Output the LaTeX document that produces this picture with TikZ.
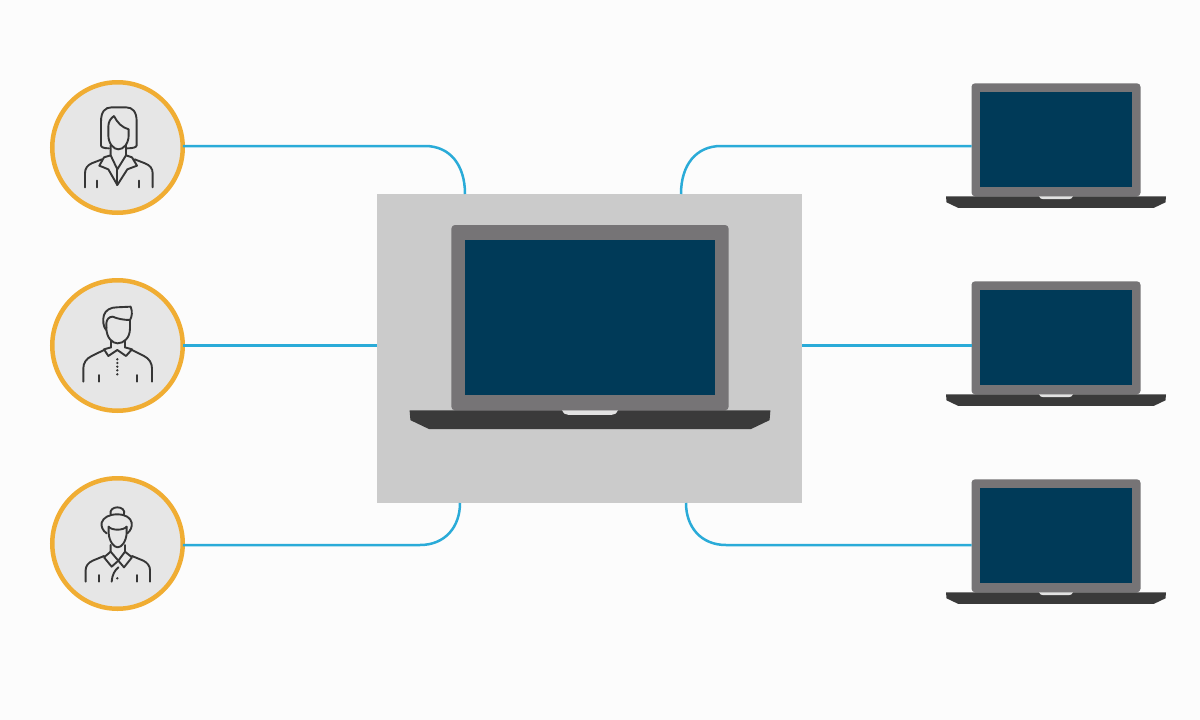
\documentclass[tikz,border=0pt]{standalone}
\definecolor{bgc}{HTML}{FCFCFC}
\definecolor{hubc}{HTML}{CBCBCB}
\definecolor{linkc}{HTML}{2AABD8}
\definecolor{ringc}{HTML}{F0AD33}
\definecolor{discc}{HTML}{E6E6E6}
\definecolor{bodyc}{HTML}{767476}
\definecolor{screenc}{HTML}{003A58}
\definecolor{basec}{HTML}{3A3A3A}
\definecolor{notchc}{HTML}{E2E2E2}
\definecolor{iconc}{HTML}{363636}
\tikzset{
  hubbox/.style={fill=hubc,draw=none,minimum width=425pt,minimum height=309pt,inner sep=0pt,outer sep=0pt},
  userdisc/.style={circle,fill=discc,draw=ringc,line width=4.5pt,minimum size=130.5pt,inner sep=0pt,outer sep=0pt},
  link/.style={draw=linkc,line width=2.5pt},
  lapbody/.style={fill=bodyc,draw=none,rounded corners=3.5pt,minimum width=169pt,minimum height=113pt,inner sep=0pt,outer sep=0pt},
  lapscreen/.style={fill=screenc,draw=none,minimum width=152.5pt,minimum height=94.5pt,inner sep=0pt,outer sep=0pt},
  icon/.style={draw=iconc,line width=1.9pt,line cap=round,line join=round},
  zoomed/.style={x=0.33333pt,y=-0.33333pt}
}
% name, centre x, top y, scale
\newcommand{\laptopicon}[4]{%
  \begin{scope}[shift={(#2,#3)},scale=#4,transform shape]
    \node[lapbody] (#1) at (0,56.5) {};
    \node[lapscreen] (#1s) at (-0.2,56.2) {};
    \fill[basec] (-110,113) -- (110,113) -- (109.5,119)
      -- (98,124.5) -- (-98,124.5) -- (-109.5,119) -- cycle;
    \fill[notchc] (-17,113) -- (17,113) .. controls (16,115) and (15,115.8) .. (13,115.8)
      -- (-13,115.8) .. controls (-15,115.8) and (-16,115) .. (-17,113) -- cycle;
  \end{scope}}
\begin{document}
\begin{tikzpicture}[x=1pt,y=-1pt]
\useasboundingbox (0,0) rectangle (1200,720);
\fill[bgc] (0,0) rectangle (1200,720);

\node[hubbox] (hub) at (589.5,348.5) {};
\coordinate (hnw) at (465,194);
\coordinate (hne) at (681,194);
\coordinate (hsw) at (460,503);
\coordinate (hse) at (686,503);
\coordinate (bendA) at (425,146);
\coordinate (bendB) at (721,146);
\coordinate (bendC) at (420,545);
\coordinate (bendD) at (726,545);

\node[userdisc] (u1) at (117.5,147.5) {};
\node[userdisc] (u2) at (117.5,345.5) {};
\node[userdisc] (u3) at (117.5,543.5) {};

\laptopicon{big}{590}{225}{1.64}
\laptopicon{l1}{1056}{83.3}{1}
\laptopicon{l2}{1056}{281.3}{1}
\laptopicon{l3}{1056}{479.3}{1}

% connectors
\draw[link] (u1.east |- bendA) -- (bendA) .. controls (450,146) and (465,165) .. (hnw);
\draw[link] (u2.east) -- (hub.west |- u2.east);
\draw[link] (u3.east |- bendC) -- (bendC) .. controls (445,545) and (460,527) .. (hsw);
\draw[link] (l1.west |- bendB) -- (bendB) .. controls (696,146) and (681,165) .. (hne);
\draw[link] (l2.west |- u2.east) -- (hub.east |- u2.east);
\draw[link] (l3.west |- bendD) -- (bendD) .. controls (701,545) and (686,527) .. (hse);

% woman, top
\begin{scope}[shift={(40,70)},zoomed]
  \draw[icon] (207,235) .. controls (192,235) and (183,232) .. (183,226) -- (183,155)
    .. controls (183,125) and (195,112) .. (215,112) -- (258,112)
    .. controls (278,112) and (290,125) .. (290,155) -- (290,226)
    .. controls (290,232) and (278,235) .. (262,235);
  \draw[icon] (222,138) .. controls (212,145) and (205,155) .. (205,170) -- (205,195)
    .. controls (205,222) and (222,238) .. (235,238)
    .. controls (250,238) and (266,222) .. (266,195) -- (266,178)
    .. controls (245,172) and (232,158) .. (222,138);
  \draw[icon] (212,226) -- (212,256) -- (232,298) -- (258,256) -- (258,226);
  \draw[icon] (212,256) -- (192,262) -- (178,287) -- (205,298) -- (232,345) -- (262,298) -- (291,287) -- (276,262) -- (258,256);
  \draw[icon] (232,298) -- (232,345);
  \draw[icon] (186,268) -- (155,280) .. controls (142,286) and (135,295) .. (135,310) -- (135,352);
  \draw[icon] (284,268) -- (315,280) .. controls (330,286) and (338,295) .. (338,310) -- (338,352);
  \draw[icon] (172,332) -- (172,352);
  \draw[icon] (296,332) -- (296,352);
\end{scope}

% man, middle
\begin{scope}[shift={(40,270)},zoomed]
  \draw[icon] (198,180) .. controls (190,170) and (187,150) .. (192,135)
    .. controls (197,120) and (212,112) .. (230,112)
    -- (272,110) .. controls (278,125) and (276,140) .. (270,150) -- (270,178);
  \draw[icon] (199,172) -- (199,160) .. controls (200,148) and (207,140) .. (218,140)
    .. controls (232,146) and (250,150) .. (270,150);
  \draw[icon] (199,172) .. controls (199,205) and (218,220) .. (233,220)
    .. controls (250,220) and (270,205) .. (270,175);
  \draw[icon] (213,214) -- (213,232);
  \draw[icon] (255,214) -- (255,232);
  \draw[icon] (213,232) -- (192,238) -- (205,258) -- (232,240) -- (258,258) -- (276,238) -- (255,232);
  \draw[icon] (192,240) -- (155,258) .. controls (138,266) and (130,280) .. (130,295) -- (130,335);
  \draw[icon] (276,240) -- (312,258) .. controls (328,266) and (336,280) .. (336,295) -- (336,335);
  \draw[icon] (176,315) -- (176,335);
  \draw[icon] (290,315) -- (290,335);
  \foreach \dy in {268,279,290,301,313} \fill[iconc] (232,\dy) circle (1.3pt);
\end{scope}

% woman with bun, bottom
\begin{scope}[shift={(40,470)},zoomed]
  \draw[icon] (212,133) .. controls (208,120) and (220,112) .. (232,112)
    .. controls (245,112) and (256,120) .. (252,133);
  \draw[icon] (200,190) .. controls (188,182) and (183,170) .. (185,158)
    .. controls (190,142) and (208,133) .. (232,133)
    .. controls (256,133) and (272,143) .. (275,158)
    .. controls (277,170) and (272,182) .. (262,190);
  \draw[icon] (206,170) -- (206,190) .. controls (208,215) and (222,232) .. (233,232)
    .. controls (245,232) and (258,215) .. (260,190) -- (260,170);
  \draw[icon] (206,170) .. controls (215,182) and (250,182) .. (260,170);
  \draw[icon] (212,225) -- (212,245) -- (235,272) -- (255,245) -- (255,225);
  \draw[icon] (212,245) -- (192,262) -- (215,290) -- (235,272) -- (252,292) -- (276,262) -- (255,245);
  \draw[icon] (192,258) -- (158,272) .. controls (145,278) and (137,288) .. (137,300) -- (137,335);
  \draw[icon] (276,258) -- (310,272) .. controls (322,278) and (330,288) .. (330,300) -- (330,335);
  \draw[icon] (176,315) -- (176,335);
  \draw[icon] (290,315) -- (290,335);
  \draw[icon] (215,335) .. controls (216,315) and (225,300) .. (235,292);
  \fill[iconc] (232,325) circle (1.3pt);
\end{scope}
\end{tikzpicture}
\end{document}
